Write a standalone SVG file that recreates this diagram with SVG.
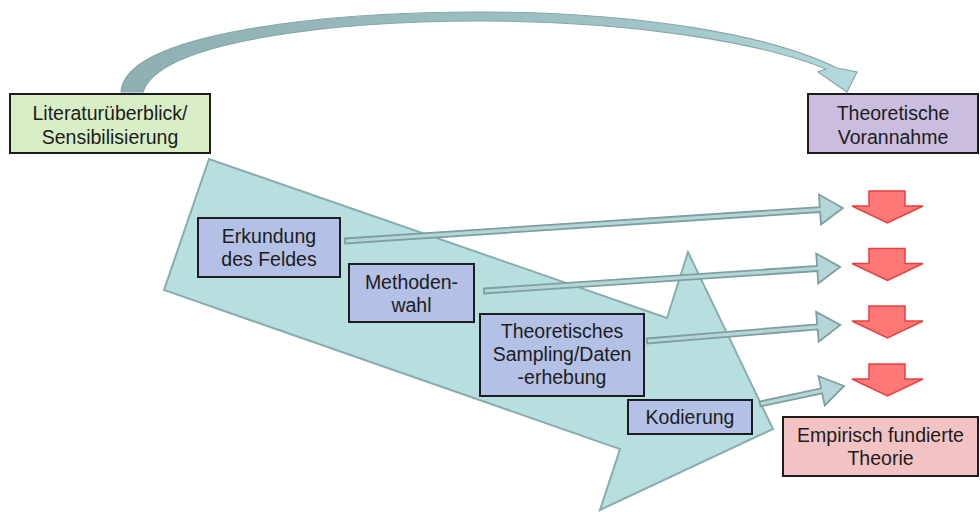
<svg xmlns="http://www.w3.org/2000/svg" width="980" height="512" viewBox="0 0 980 512">
  <style>
    .box { stroke: #1c1c1c; stroke-width: 2; }
    .lit { fill: #d8eec6; }
    .vor { fill: #cbbde0; }
    .step { fill: #b4c1e6; }
    .emp { fill: #f3c3c3; }
    .label { font-family: "Liberation Sans", Arial, sans-serif; font-size: 19.5px; fill: #1c1c1c; text-anchor: middle; }
    .flow { fill: #b7dfe0; stroke: #89adae; stroke-width: 2; stroke-linejoin: miter; }
    .conn { fill: #b4d6d8; stroke: #7f9fa0; stroke-width: 1.8; stroke-linejoin: miter; }
    .down { fill: #ff7878; stroke: #e8403f; stroke-width: 1.5; }
  </style>
  <defs>
    <linearGradient id="arcGrad" x1="0" y1="0" x2="1" y2="0">
      <stop offset="0" stop-color="#8fb0b3"/>
      <stop offset="0.7" stop-color="#9fc3c6"/>
      <stop offset="1" stop-color="#b3dadd"/>
    </linearGradient>
    <path id="downArrow" d="M869,0 H905 V15 H923 L887.5,32 L852,15 H869 Z"/>
  </defs>

  <rect width="980" height="512" fill="#ffffff"/>

  <!-- large process arrow behind the steps -->
  <g id="process-arrow">
    <polygon class="flow" points="209,159 164,290 620,449 600,510 773,429 688,252 667,318"/>
  </g>

  <!-- curved arrow from the literature review to the prior assumptions -->
  <g id="top-arc">
    <path d="M121,92 C125,32 330,12 480,12 C640,12 770,35 837,68 L857,72 L847,92 L818,72 L826,69 C760,42 630,21 480,21 C340,21 160,40 143,92 Z"
          fill="url(#arcGrad)" stroke="#86a7a9" stroke-width="1.2"/>
  </g>

  <!-- nodes -->
  <g id="literatur">
    <rect class="box lit" x="10" y="94" width="200" height="59"/>
    <text class="label" x="110" y="120">Literaturüberblick/</text>
    <text class="label" x="110" y="144">Sensibilisierung</text>
  </g>

  <g id="vorannahme">
    <rect class="box vor" x="808" y="94" width="170" height="59"/>
    <text class="label" x="893" y="120">Theoretische</text>
    <text class="label" x="893" y="144">Vorannahme</text>
  </g>

  <g id="erkundung">
    <rect class="box step" x="198" y="218" width="142" height="59"/>
    <text class="label" x="269" y="243">Erkundung</text>
    <text class="label" x="269" y="266">des Feldes</text>
  </g>

  <g id="methodenwahl">
    <rect class="box step" x="349" y="264" width="125" height="58"/>
    <text class="label" x="411.5" y="288.5">Methoden-</text>
    <text class="label" x="411.5" y="311.5">wahl</text>
  </g>

  <g id="sampling">
    <rect class="box step" x="480" y="314" width="164" height="82"/>
    <text class="label" x="562" y="337.5">Theoretisches</text>
    <text class="label" x="562" y="360.5">Sampling/Daten</text>
    <text class="label" x="562" y="383.5">-erhebung</text>
  </g>

  <g id="kodierung">
    <rect class="box step" x="628" y="400" width="124" height="34"/>
    <text class="label" x="690" y="424">Kodierung</text>
  </g>

  <g id="theorie">
    <rect class="box emp" x="783" y="417" width="195" height="59"/>
    <text class="label" x="880.5" y="442">Empirisch fundierte</text>
    <text class="label" x="880.5" y="465">Theorie</text>
  </g>

  <!-- connectors from each step to the right-hand column -->
  <g id="connectors">
    <path class="conn" transform="translate(345,241) rotate(-3.79)" d="M0,-2.5 H476 V-15 L499,0 L476,15 V2.5 H0 Z"/>
    <path class="conn" transform="translate(484,291) rotate(-3.86)" d="M0,-2.5 H334 V-15 L357,0 L334,15 V2.5 H0 Z"/>
    <path class="conn" transform="translate(647,341) rotate(-4.74)" d="M0,-2.5 H171 V-15 L194,0 L171,15 V2.5 H0 Z"/>
    <path class="conn" transform="translate(760,404) rotate(-12.09)" d="M0,-2.5 H63 V-15 L86,0 L63,15 V2.5 H0 Z"/>
  </g>

  <!-- red downward arrows -->
  <g id="down-arrows">
    <use href="#downArrow" class="down" y="191"/>
    <use href="#downArrow" class="down" y="248.5"/>
    <use href="#downArrow" class="down" y="306"/>
    <use href="#downArrow" class="down" y="364"/>
  </g>
</svg>
